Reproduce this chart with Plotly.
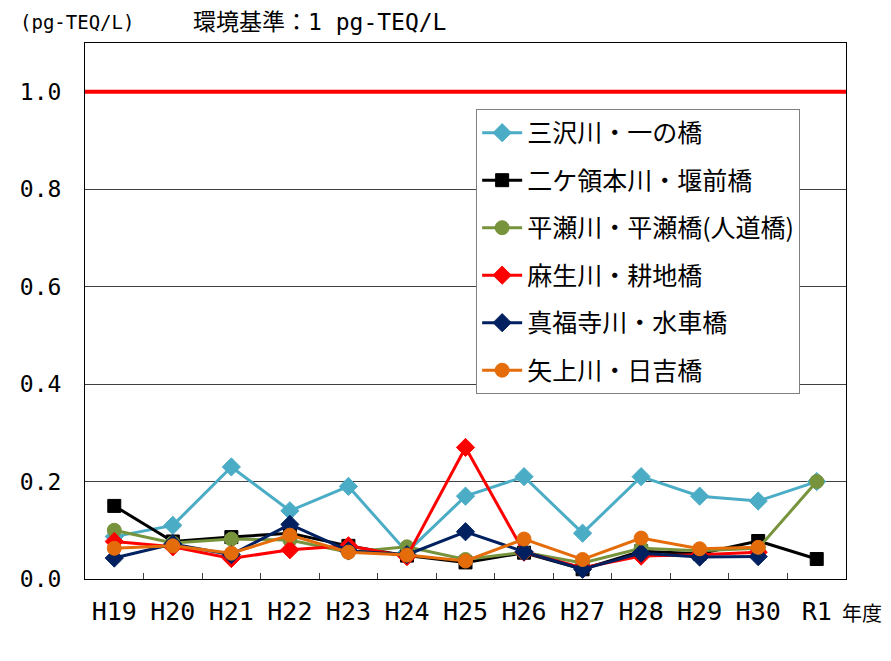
import plotly.graph_objects as go

# fiscal years
years = ["H19", "H20", "H21", "H22", "H23", "H24", "H25",
         "H26", "H27", "H28", "H29", "H30", "R1"]

# dioxin concentration (pg-TEQ/L) per sampling point
misawa = [0.087, 0.11, 0.23, 0.14, 0.19, 0.055, 0.17, 0.21, 0.094, 0.21, 0.17, 0.16, 0.20]
nikaryo = [0.15, 0.077, 0.086, 0.094, 0.068, 0.048, 0.034, 0.054, 0.02, 0.057, 0.052, 0.078, 0.041]
hirase = [0.10, 0.074, 0.082, 0.08, 0.055, 0.066, 0.04, 0.055, 0.033, 0.063, 0.058, 0.063, 0.20]
asao = [0.077, 0.066, 0.042, 0.06, 0.068, 0.046, 0.27, 0.055, 0.023, 0.047, 0.05, 0.055, None]
shinpukuji = [0.043, 0.072, 0.05, 0.112, 0.058, 0.05, 0.097, 0.056, 0.02, 0.053, 0.045, 0.046, None]
yagami = [0.063, 0.068, 0.053, 0.09, 0.055, 0.049, 0.037, 0.082, 0.04, 0.084, 0.062, 0.065, None]

standard = 1.0  # 環境基準

series = [
    ("三沢川・一の橋", misawa, "#4bacc6", "diamond"),
    ("二ケ領本川・堰前橋", nikaryo, "#000000", "square"),
    ("平瀬川・平瀬橋(人道橋)", hirase, "#77933c", "circle"),
    ("麻生川・耕地橋", asao, "#ff0000", "diamond"),
    ("真福寺川・水車橋", shinpukuji, "#002060", "diamond"),
    ("矢上川・日吉橋", yagami, "#e46c0a", "circle"),
]

CJK = "Noto Sans CJK JP"
MONO = "DejaVu Sans Mono, Noto Sans CJK JP"
sizes = {"diamond": 14, "square": 13, "circle": 14}

fig = go.Figure()
for i, (name, vals, color, sym) in enumerate(series):
    fig.add_trace(go.Scatter(
        x=years, y=vals, name=name,
        mode="lines+markers",
        line=dict(color=color, width=3),
        marker=dict(symbol=sym, size=sizes[sym], color=color,
                    line=dict(color=color, width=1)),
        legendgroup=str(i),
    ))

# environmental standard line
fig.add_shape(type="line", xref="paper", x0=0, x1=1, yref="y",
              y0=standard, y1=standard, line=dict(color="#ff0000", width=4))

# page body adds an 8px offset, margins compensate for it
fig.update_layout(
    width=891, height=661,
    margin=dict(l=70, r=53, t=35, b=90),
    paper_bgcolor="white", plot_bgcolor="white",
    font=dict(family=CJK, color="black", size=18),
    showlegend=True,
    legend=dict(x=0.514, y=0.877, xanchor="left", yanchor="top",
                bordercolor="#808080", borderwidth=1, bgcolor="white",
                font=dict(size=25, family=CJK), tracegroupgap=12,
                itemwidth=40),
    xaxis=dict(type="category", range=[-0.5, 12.5], tickson="boundaries",
               ticks="inside", ticklen=6, tickcolor="#404040",
               showline=True, linecolor="black", linewidth=1, mirror=True,
               showgrid=False, tickfont=dict(size=25, family=MONO),
               ticklabelstandoff=10),
    yaxis=dict(range=[0, 1.1], tickvals=[0, 0.2, 0.4, 0.6, 0.8, 1.0],
               tickformat=".1f", ticks="", showgrid=True,
               gridcolor="#404040", gridwidth=1,
               showline=True, linecolor="black", linewidth=1, mirror=True,
               tickfont=dict(size=23, family=MONO), zeroline=False,
               ticklabelstandoff=18),
    annotations=[
        dict(text="(pg-TEQ/L)", xref="paper", yref="paper", x=-0.0885, y=1.039,
             xanchor="left", yanchor="middle", showarrow=False,
             font=dict(size=19, family=MONO)),
        dict(text="環境基準：1 pg-TEQ/L", xref="paper", yref="paper", x=0.139, y=1.039,
             xanchor="left", yanchor="middle", showarrow=False,
             font=dict(size=23, family=MONO)),
        dict(text="年度", xref="paper", yref="paper", x=0.992, y=-0.0616,
             xanchor="left", yanchor="middle", showarrow=False,
             font=dict(size=20, family=CJK)),
    ],
)

fig.write_html("out.html")
